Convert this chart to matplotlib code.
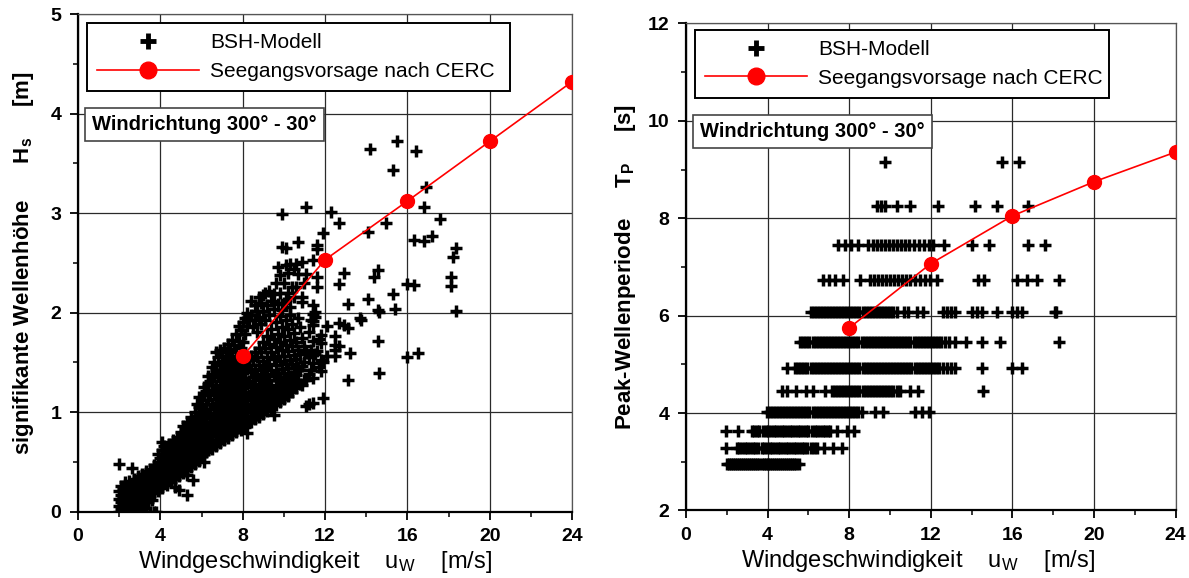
import matplotlib
matplotlib.use("Agg")
import matplotlib.pyplot as plt
from matplotlib.lines import Line2D
from matplotlib.ticker import MultipleLocator

plt.rcParams['font.family'] = ['Liberation Sans', 'DejaVu Sans']
plt.rcParams['mathtext.default'] = 'regular'

# ---------------- data: left panel (Hs vs wind speed) ----------------
hs_col_wind = [2.0, 2.1, 2.2, 2.3, 2.4, 2.5, 2.6, 2.7, 2.8, 2.9,
               3.0, 3.1, 3.2, 3.3, 3.4, 3.5, 3.6, 3.7, 3.8, 3.9,
               4.0, 4.1, 4.2, 4.3, 4.4, 4.5, 4.6, 4.7, 4.8, 4.9,
               5.0, 5.1, 5.2, 5.3, 5.4, 5.5, 5.6, 5.7, 5.8, 5.9,
               6.0, 6.1, 6.2, 6.3, 6.4, 6.5, 6.6, 6.7, 6.8, 6.9,
               7.0, 7.1, 7.2, 7.3, 7.4, 7.5, 7.6, 7.7, 7.8, 7.9,
               8.0, 8.1, 8.2, 8.3, 8.4, 8.5, 8.6, 8.7, 8.8, 8.9,
               9.0, 9.1, 9.2, 9.3, 9.4, 9.5, 9.6, 9.7, 9.8, 9.9,
               10.0, 10.1, 10.2, 10.3, 10.4, 10.5, 10.6, 10.7, 10.8, 10.9,
               11.0, 11.1, 11.2, 11.3, 11.4, 11.5, 11.6, 11.7, 11.8, 11.9,
               12.1, 12.3, 12.5, 12.7, 12.9, 13.1, 13.2, 13.7, 13.75,
               14.1, 14.2, 14.4, 14.55, 14.6, 14.95, 15.3, 15.4, 15.5,
               16.0, 16.3, 16.4, 16.5, 16.8, 16.9, 17.2, 17.6, 18.1,
               18.2, 18.35]
hs_col_height = [
    [0.0, 0.06, 0.13, 0.21, 0.48],
    [0.03, 0.1, 0.17, 0.26],
    [0.0, 0.08, 0.15, 0.23],
    [0.05, 0.12, 0.2, 0.3],
    [0.0, 0.09, 0.17, 0.25],
    [0.04, 0.14, 0.22, 0.31],
    [0.02, 0.11, 0.19, 0.28, 0.44],
    [0.07, 0.16, 0.24, 0.33],
    [0.03, 0.12, 0.21, 0.3],
    [0.0, 0.09, 0.18, 0.27, 0.36],
    [0.06, 0.14, 0.23, 0.32],
    [0.02, 0.11, 0.2, 0.29, 0.38],
    [0.08, 0.17, 0.26, 0.35],
    [0.04, 0.14, 0.23, 0.32, 0.41],
    [0.1, 0.19, 0.28, 0.38],
    [0.0, 0.16, 0.25, 0.34, 0.43],
    [0.12, 0.22, 0.31, 0.4],
    [0.0, 0.19, 0.28, 0.37, 0.47],
    [0.0, 0.24, 0.33, 0.43],
    [0.21, 0.3, 0.39, 0.5, 0.58],
    [0.26, 0.35, 0.45, 0.54],
    [0.24, 0.32, 0.41, 0.5, 0.62, 0.7],
    [0.29, 0.38, 0.47, 0.57, 0.66],
    [0.27, 0.35, 0.44, 0.53, 0.63],
    [0.32, 0.41, 0.5, 0.6, 0.68],
    [0.3, 0.38, 0.47, 0.56, 0.65],
    [0.35, 0.44, 0.53, 0.62, 0.72],
    [0.25, 0.33, 0.41, 0.5, 0.59, 0.69],
    [0.38, 0.47, 0.56, 0.66, 0.75],
    [0.22, 0.36, 0.44, 0.53, 0.63, 0.72],
    [0.41, 0.5, 0.6, 0.7, 0.8],
    [0.39, 0.47, 0.57, 0.67, 0.77, 0.86],
    [0.44, 0.53, 0.63, 0.73, 0.83],
    [0.17, 0.37, 0.42, 0.5, 0.6, 0.7, 0.8, 0.9],
    [0.47, 0.56, 0.66, 0.77, 0.88],
    [0.45, 0.53, 0.63, 0.73, 0.84, 0.95],
    [0.32, 0.5, 0.6, 0.7, 0.81, 0.92],
    [0.48, 0.57, 0.67, 0.78, 0.89, 1.0],
    [0.53, 0.63, 0.74, 0.85, 0.96, 1.08],
    [0.51, 0.6, 0.7, 0.81, 0.93, 1.05, 1.15],
    [0.56, 0.66, 0.77, 0.88, 1.0, 1.12],
    [0.5, 0.58, 0.68, 0.79, 0.9, 1.03, 1.18, 1.25],
    [0.6, 0.71, 0.83, 0.95, 1.08, 1.21],
    [0.62, 0.74, 0.86, 0.98, 1.12, 1.28, 1.36],
    [0.65, 0.77, 0.9, 1.03, 1.17, 1.31],
    [0.63, 0.72, 0.83, 0.95, 1.08, 1.22, 1.38, 1.45],
    [0.68, 0.8, 0.92, 1.05, 1.2, 1.35, 1.5],
    [0.66, 0.76, 0.87, 0.99, 1.13, 1.27, 1.42, 1.6],
    [0.71, 0.82, 0.94, 1.07, 1.22, 1.38, 1.55],
    [0.69, 0.79, 0.9, 1.02, 1.16, 1.31, 1.47, 1.62],
    [0.74, 0.85, 0.97, 1.1, 1.25, 1.41, 1.56],
    [0.72, 0.82, 0.93, 1.05, 1.19, 1.34, 1.5, 1.64],
    [0.76, 0.88, 1.0, 1.13, 1.28, 1.44, 1.6],
    [0.74, 0.84, 0.95, 1.08, 1.22, 1.37, 1.53, 1.68],
    [0.79, 0.9, 1.02, 1.16, 1.31, 1.47, 1.63],
    [0.77, 0.87, 0.98, 1.11, 1.25, 1.4, 1.56, 1.72],
    [0.82, 0.93, 1.05, 1.19, 1.34, 1.5, 1.67],
    [0.8, 0.9, 1.01, 1.14, 1.28, 1.43, 1.6, 1.78],
    [0.84, 0.96, 1.08, 1.22, 1.37, 1.53, 1.71, 1.86],
    [0.82, 0.92, 1.04, 1.17, 1.31, 1.46, 1.64, 1.82],
    [0.87, 0.98, 1.11, 1.25, 1.4, 1.7, 1.9],
    [0.85, 0.95, 1.07, 1.2, 1.34, 1.5, 1.78, 1.95],
    [0.79, 0.89, 1.01, 1.14, 1.28, 1.43, 1.86, 2.0],
    [0.92, 1.04, 1.17, 1.31, 1.47, 1.93],
    [0.9, 1.0, 1.12, 1.25, 1.4, 1.56, 1.98, 2.12],
    [0.94, 1.06, 1.2, 1.35, 1.52, 1.85],
    [0.93, 1.03, 1.15, 1.28, 1.43, 1.6, 1.92, 2.08],
    [0.97, 1.09, 1.23, 1.38, 1.55, 1.8, 2.02],
    [0.95, 1.06, 1.18, 1.32, 1.47, 1.64, 1.96, 2.16],
    [1.0, 1.12, 1.26, 1.42, 1.6, 1.88, 2.1],
    [0.98, 1.09, 1.21, 1.35, 1.51, 1.7, 2.02, 2.18],
    [1.03, 1.15, 1.29, 1.45, 1.64, 1.93, 2.2],
    [1.01, 1.12, 1.24, 1.38, 1.55, 1.76, 2.08],
    [1.06, 1.18, 1.32, 1.48, 1.68, 1.98, 2.22],
    [1.04, 1.15, 1.27, 1.42, 1.6, 1.83, 2.12],
    [0.97, 1.09, 1.22, 1.36, 1.53, 1.73, 2.04, 2.19],
    [1.07, 1.19, 1.32, 1.47, 1.65, 1.9, 2.3],
    [1.12, 1.25, 1.39, 1.56, 1.78, 2.09, 2.46],
    [1.1, 1.22, 1.35, 1.51, 1.7, 1.97, 2.2, 2.38],
    [1.15, 1.28, 1.43, 1.62, 1.85, 2.03, 2.66, 2.99],
    [1.13, 1.25, 1.39, 1.56, 1.76, 2.1, 2.3],
    [1.18, 1.32, 1.48, 1.67, 1.92, 2.13, 2.48, 2.65],
    [1.16, 1.29, 1.44, 1.61, 1.83, 2.2, 2.4],
    [1.22, 1.36, 1.52, 1.72, 1.98, 2.06, 2.49],
    [1.2, 1.33, 1.48, 1.66, 1.88, 2.26],
    [1.26, 1.4, 1.57, 1.79, 2.16, 2.44],
    [1.24, 1.37, 1.53, 1.7, 2.26, 2.49],
    [1.3, 1.45, 1.62, 1.95, 2.39, 2.71],
    [1.28, 1.42, 1.58, 1.85],
    [1.27, 1.46, 1.74, 2.11, 2.16, 2.51],
    [1.32, 1.5, 1.66, 2.3],
    [1.06, 1.32, 1.59, 2.39, 3.06],
    [1.08, 1.38, 1.55, 1.8],
    [1.42, 1.62, 1.92],
    [1.09, 1.34, 1.49, 1.71, 1.87, 1.91, 1.99, 2.08, 2.53],
    [1.58, 1.96, 2.01],
    [1.61, 2.26, 2.36, 2.64, 2.68],
    [1.45, 1.73],
    [1.41, 1.52, 1.69, 1.77],
    [1.14, 1.5, 2.8],
    [1.56, 1.86],
    [3.01],
    [1.56, 1.62, 1.67, 1.76],
    [1.66, 1.89, 2.29, 2.9],
    [1.87, 2.4],
    [1.32, 1.84, 2.09],
    [1.59],
    [1.95],
    [1.93],
    [2.14, 2.81],
    [3.64],
    [2.36],
    [1.71, 2.03, 2.43],
    [1.39, 2.01],
    [2.9],
    [2.19, 3.43],
    [2.04],
    [3.72],
    [1.55, 2.29],
    [2.28, 2.73],
    [3.62],
    [1.59],
    [2.72, 3.06],
    [3.26],
    [2.77],
    [2.94],
    [2.27, 2.36],
    [2.56],
    [2.02, 2.65],
]

cerc_wind = [8, 12, 16, 20, 24]
cerc_hs = [1.56, 2.53, 3.12, 3.72, 4.32]
cerc_tp = [5.75, 7.07, 8.05, 8.75, 9.36]

# ---------------- data: right panel (Tp vs wind speed) ----------------
tp_levels = [2.95, 3.28, 3.63, 4.02, 4.45, 4.93, 5.46, 6.08, 6.74, 7.46, 8.26, 9.16]
tp_row_wind = [
    [2.0, 2.1, 2.2, 2.3, 2.4, 2.5, 2.6, 2.7, 2.8, 2.9, 3.0, 3.1, 3.2, 3.3, 3.4,
     3.5, 3.6, 3.7, 3.8, 3.9, 4.0, 4.1, 4.2, 4.3, 4.4, 4.5, 4.6, 4.7, 4.8, 4.9,
     5.0, 5.1, 5.2, 5.3, 5.4, 5.55],
    [1.96, 2.48, 2.6, 2.75, 2.9, 3.0, 3.15, 3.3, 3.4, 3.55, 3.7, 3.8, 3.95, 4.1,
     4.2, 4.35, 4.5, 4.6, 4.75, 4.9, 5.0, 5.15, 5.3, 5.4, 5.55, 5.7, 5.8, 5.95,
     6.1, 6.25, 6.4, 6.76, 7.19, 7.63],
    [1.96, 2.56, 3.22, 3.35, 3.5, 3.6, 3.75, 3.9, 4.0, 4.15, 4.3, 4.4, 4.55, 4.7,
     4.8, 4.95, 5.1, 5.2, 5.35, 5.5, 5.6, 5.75, 5.9, 6.0, 6.15, 6.3, 6.4, 6.55,
     6.7, 6.8, 6.95, 7.06, 7.39, 7.88, 8.24],
    [3.96, 4.1, 4.25, 4.4, 4.55, 4.7, 4.85, 5.0, 5.15, 5.3, 5.45, 5.6, 5.75, 5.9,
     6.05, 6.2, 6.35, 6.5, 6.65, 6.8, 6.95, 7.1, 7.25, 7.4, 7.55, 7.7, 7.85, 8.0,
     8.15, 8.3, 8.45, 8.6, 9.26, 9.67, 11.2, 11.55, 11.9],
    [4.69, 4.97, 5.38, 5.88, 6.24, 6.81, 7.14, 7.3, 7.45, 7.6, 7.75, 7.9, 8.05,
     8.2, 8.35, 8.5, 8.65, 8.8, 8.95, 9.1, 9.25, 9.4, 9.55, 9.7, 9.85, 10.0,
     10.15, 10.33, 10.5, 10.98, 11.39, 14.57],
    [4.97, 5.34, 5.5, 5.65, 5.8, 5.95, 6.1, 6.25, 6.4, 6.55, 6.7, 6.85, 7.0, 7.15,
     7.3, 7.45, 7.6, 7.75, 7.9, 8.05, 8.2, 8.35, 8.5, 8.65, 8.8, 8.95, 9.1, 9.25,
     9.4, 9.55, 9.7, 9.85, 10.0, 10.15, 10.3, 10.45, 10.6, 10.75, 10.9, 11.05,
     11.2, 11.35, 11.5, 11.65, 11.8, 11.95, 12.1, 12.25, 12.4, 12.58, 12.8,
     13.0, 13.19, 14.5, 15.97, 16.45],
    [5.59, 5.75, 5.9, 6.05, 6.2, 6.35, 6.5, 6.65, 6.8, 6.95, 7.1, 7.25, 7.4, 7.55,
     7.7, 7.85, 8.0, 8.15, 8.3, 8.45, 8.6, 8.75, 8.9, 9.05, 9.2, 9.35, 9.5, 9.65,
     9.8, 9.95, 10.1, 10.25, 10.4, 10.55, 10.7, 10.85, 11.0, 11.15, 11.3, 11.45,
     11.6, 11.75, 11.9, 12.05, 12.2, 12.35, 12.5, 12.7, 12.9, 13.2, 13.73, 14.5,
     15.4, 18.3],
    [6.1, 6.25, 6.4, 6.55, 6.7, 6.85, 7.0, 7.15, 7.3, 7.45, 7.6, 7.75, 7.9, 8.05,
     8.2, 8.35, 8.5, 8.65, 8.8, 8.95, 9.1, 9.25, 9.4, 9.55, 9.7, 9.85, 10.0,
     10.15, 10.33, 10.7, 10.9, 11.3, 11.6, 12.6, 12.8, 13.0, 13.2, 14.0, 14.25,
     14.5, 15.26, 15.97, 16.2, 16.45, 18.09, 18.15],
    [6.73, 7.0, 7.3, 7.71, 8.53, 9.0, 9.2, 9.4, 9.6, 9.8, 10.0, 10.2, 10.4, 10.6,
     10.8, 11.0, 11.2, 11.45, 11.7, 11.95, 12.29, 14.33, 14.58, 16.2, 16.7,
     17.2, 18.3],
    [7.47, 7.8, 8.1, 8.45, 8.94, 9.15, 9.35, 9.55, 9.75, 9.95, 10.15, 10.35,
     10.55, 10.75, 10.95, 11.15, 11.4, 11.65, 11.9, 12.12, 12.62, 14.0, 14.87,
     16.78, 17.6],
    [9.35, 9.55, 9.75, 10.33, 11.0, 12.35, 14.17, 15.26, 16.78],
    [9.75, 15.47, 16.32],
]

legend_labels = ["BSH-Modell", "Seegangsvorsage nach CERC"]
box_text = "Windrichtung 300° - 30°"

# ---------------- figure ----------------
fig = plt.figure(figsize=(11.89, 5.78), dpi=100)
ax1 = fig.add_axes([0.0656, 0.1150, 0.4155, 0.8607])
ax2 = fig.add_axes([0.5770, 0.1168, 0.4118, 0.8426])

plus_kw = dict(ls='none', marker='+', ms=8, mew=2.5, color='black', zorder=3)
cerc_kw = dict(color='#ff0000', lw=1.2, marker='o', ms=10, mec='#ff0000',
               mfc='#ff0000', zorder=4)

# left scatter
for w, hs in zip(hs_col_wind, hs_col_height):
    ax1.plot([w] * len(hs), hs, **plus_kw)
ax1.plot(cerc_wind, cerc_hs, **cerc_kw)

# right scatter
for tp, ws in zip(tp_levels, tp_row_wind):
    ax2.plot(ws, [tp] * len(ws), **plus_kw)
ax2.plot(cerc_wind, cerc_tp, **cerc_kw)

def style(ax, ylim, ymaj, ymin):
    ax.set_xlim(0, 24)
    ax.set_ylim(*ylim)
    ax.xaxis.set_major_locator(MultipleLocator(4))
    ax.xaxis.set_minor_locator(MultipleLocator(2))
    ax.yaxis.set_major_locator(MultipleLocator(ymaj))
    ax.yaxis.set_minor_locator(MultipleLocator(ymin))
    ax.set_axisbelow(True)
    ax.grid(True, which='major', color='#2a2a2a', lw=0.9)
    for s in ['left', 'bottom']:
        ax.spines[s].set_linewidth(1.6)
        ax.spines[s].set_color('black')
    for s in ['top', 'right']:
        ax.spines[s].set_linewidth(0.9)
        ax.spines[s].set_color('#555555')
    ax.tick_params(which='major', direction='out', length=6, width=1.3,
                   labelsize=14, pad=6)
    ax.tick_params(which='minor', direction='out', length=3.5, width=1.1)
    ax.tick_params(axis='x', which='major', pad=6)
    for lab in ax.get_xticklabels() + ax.get_yticklabels():
        lab.set_fontweight('bold')

style(ax1, (0, 5), 1, 0.5)
style(ax2, (2, 12), 2, 1)

# labels
ax1.set_ylabel("signifikante Wellenhöhe      H$_s$     [m]", fontsize=16,
               fontweight='bold')
ax1.yaxis.set_label_coords(-0.085, 0.5)
ax2.set_ylabel("Peak-Wellenperiode     T$_P$     [s]", fontsize=16,
               fontweight='bold')
ax2.yaxis.set_label_coords(-0.098, 0.5)
for ax, xc in [(ax1, 0.48), (ax2, 0.474)]:
    ax.set_xlabel("Windgeschwindigkeit    u$_W$    [m/s]", fontsize=17)
    ax.xaxis.set_label_coords(xc, -0.076)

# legends
for ax, anchor in [(ax1, (0.018, 0.831, 0.857, 0.151)),
                   (ax2, (0.018, 0.835, 0.846, 0.152))]:
    h1 = Line2D([], [], ls='none', marker='+', ms=12, mew=3.5, color='black')
    h2 = Line2D([], [], color='#ff0000', lw=1.2, marker='o', ms=12,
                mfc='#ff0000', mec='#ff0000')
    leg = ax.legend([h1, h2], legend_labels, loc='upper left',
                    bbox_to_anchor=anchor, mode='expand', borderaxespad=0,
                    fontsize=15, handlelength=4.9, handletextpad=0.5,
                    borderpad=0.5, labelspacing=0.45, fancybox=False,
                    framealpha=1, edgecolor='black')
    leg.get_frame().set_linewidth(1.4)
    leg.set_zorder(10)

# direction boxes
for ax, (tx, ty) in [(ax1, (0.028, 0.778)), (ax2, (0.029, 0.778))]:
    ax.text(tx, ty, box_text, transform=ax.transAxes, fontsize=14.5,
            fontweight='bold', va='center', ha='left', zorder=11,
            bbox=dict(boxstyle='square,pad=0.35', fc='white', ec='#444444',
                      lw=1.2))

fig.savefig("out.png", dpi=100)
